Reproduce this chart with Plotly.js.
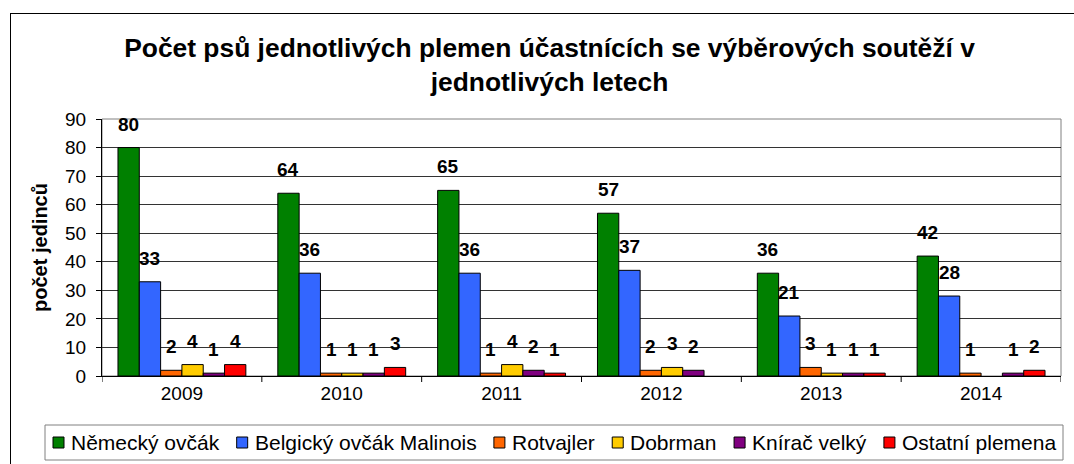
<!DOCTYPE html>
<html>
<head>
<meta charset="utf-8">
<script src="https://cdn.plot.ly/plotly-3.0.1.min.js"></script>
<style>
  html, body { margin: 0; padding: 0; background: #fff; overflow: hidden; }
  #wrap { position: relative; width: 1074px; height: 464px; }
  #chart { position: absolute; left: 0; top: 0; width: 1074px; height: 464px; }
  #frame { position: absolute; left: 10px; top: 13px; width: 1100px; height: 500px;
           border: 1px solid #000; pointer-events: none; box-sizing: border-box; }
</style>
</head>
<body>
<div id="wrap">
  <div id="chart"></div>
  <div id="frame"></div>
</div>
<script>
// ---- data ----
const years = ['2009', '2010', '2011', '2012', '2013', '2014'];
const nemeckyOvcak = [80, 64, 65, 57, 36, 42];
const belgickyMalinois = [33, 36, 36, 37, 21, 28];
const rotvajler = [2, 1, 1, 2, 3, 1];
const dobrman = [4, 1, 4, 3, 1, null];
const kniracVelky = [1, 1, 2, 2, 1, 1];
const ostatniPlemena = [4, 3, 1, null, 1, 2];
const seriesNames = ['Německý ovčák', 'Belgický ovčák Malinois', 'Rotvajler', 'Dobrman', 'Knírač velký', 'Ostatní plemena'];
const yTicks = [0, 10, 20, 30, 40, 50, 60, 70, 80, 90];

// ---- styling ----
const seriesValues = [nemeckyOvcak, belgickyMalinois, rotvajler, dobrman, kniracVelky, ostatniPlemena];
const colors = ['#008000', '#3366FF', '#FF6600', '#FFCC00', '#800080', '#FF0000'];
const FONT = 'Arial, "Liberation Sans", sans-serif';
const W = 1074, H = 464;
const margin = {l: 102, r: 13, t: 119, b: 88, pad: 0};
const bargap = 0.2;
const plotW = W - margin.l - margin.r;
const plotH = H - margin.t - margin.b;
const px2paperX = px => (px - margin.l) / plotW;
const px2paperY = py => (H - margin.b - py) / plotH;

const traces = seriesValues.map((vals, i) => ({
  type: 'bar',
  name: seriesNames[i],
  x: years,
  y: vals,
  marker: {color: colors[i], line: {color: '#000', width: 1}},
  hoverinfo: 'none',
  showlegend: false
}));

// data labels placed above each bar (category index + per-bar pixel offset)
const catW = plotW / years.length;
const barPx = catW * (1 - bargap) / seriesValues.length;
const annotations = [];
seriesValues.forEach((vals, i) => {
  vals.forEach((v, j) => {
    if (v === null) return;
    annotations.push({
      x: j, y: v, xref: 'x', yref: 'y',
      text: String(v), showarrow: false,
      xanchor: 'center', yanchor: 'bottom',
      xshift: (i - (seriesValues.length - 1) / 2) * barPx,
      yshift: 11,
      font: {family: FONT, size: 19, color: '#000', weight: 'bold'}
    });
  });
});

const shapes = [{
  type: 'rect', xref: 'paper', yref: 'paper', x0: 0, x1: 1, y0: 0, y1: 1,
  line: {color: '#808080', width: 1}, layer: 'below'
}];
// outside tick marks on category boundaries
for (let j = 0; j <= years.length; j++) {
  shapes.push({
    type: 'line', xref: 'x', yref: 'paper', ysizemode: 'pixel', yanchor: 0,
    x0: j - 0.5, x1: j - 0.5, y0: 0, y1: -6,
    line: {color: '#000', width: 1}
  });
}

// legend drawn as a boxed row: swatch + series name
const LEG_FONT = 21;
const legBox = {left: 45, right: 1063, top: 425, bottom: 460};
const swatch = 11, swGap = 6, pad = 8;
const ctx = document.createElement('canvas').getContext('2d');
ctx.font = LEG_FONT + 'px Arial, "Liberation Sans", sans-serif';
const textW = seriesNames.map(n => ctx.measureText(n).width);
const contentW = textW.reduce((a, b) => a + b, 0) + seriesNames.length * (swatch + swGap);
const itemGap = Math.max(6, (legBox.right - legBox.left - 2 * pad - contentW) / (seriesNames.length - 1));
shapes.push({
  type: 'rect', xref: 'paper', yref: 'paper',
  x0: px2paperX(legBox.left), x1: px2paperX(legBox.right),
  y0: px2paperY(legBox.bottom), y1: px2paperY(legBox.top),
  line: {color: '#808080', width: 1}, fillcolor: '#fff'
});
const legCy = (legBox.top + legBox.bottom) / 2;
let cx = legBox.left + pad;
seriesNames.forEach((name, i) => {
  shapes.push({
    type: 'rect', xref: 'paper', yref: 'paper',
    x0: px2paperX(cx), x1: px2paperX(cx + swatch),
    y0: px2paperY(legCy + swatch / 2), y1: px2paperY(legCy - swatch / 2),
    line: {color: '#000', width: 1}, fillcolor: colors[i]
  });
  annotations.push({
    xref: 'paper', yref: 'paper',
    x: px2paperX(cx + swatch + swGap), y: px2paperY(legCy),
    xanchor: 'left', yanchor: 'middle',
    text: name, showarrow: false, borderpad: 0,
    font: {family: FONT, size: LEG_FONT, color: '#000'}
  });
  cx += swatch + swGap + textW[i] + itemGap;
});

const layout = {
  width: W, height: H,
  margin: margin,
  paper_bgcolor: '#fff',
  plot_bgcolor: '#fff',
  barmode: 'group',
  bargap: bargap,
  bargroupgap: 0,
  showlegend: false,
  font: {family: FONT, color: '#000'},
  title: {
    text: '<b>Počet psů jednotlivých plemen účastnících se výběrových soutěží v<br>jednotlivých letech</b>',
    font: {family: FONT, size: 26.4, color: '#000'},
    x: 549.5 / W, xref: 'container', xanchor: 'center',
    y: 1 - 57 / H, yref: 'container', yanchor: 'top'
  },
  xaxis: {
    type: 'category',
    range: [-0.5, years.length - 0.5],
    autorange: false,
    showline: true, linecolor: '#000', linewidth: 1,
    ticks: '',
    showgrid: false, zeroline: false,
    tickfont: {family: FONT, size: 19, color: '#000'},
    fixedrange: true
  },
  yaxis: {
    range: [0, 90],
    autorange: false,
    tickvals: yTicks,
    showline: true, linecolor: '#000', linewidth: 1,
    ticks: 'outside', ticklen: 5, tickcolor: '#000',
    showgrid: true, gridcolor: '#333', gridwidth: 1,
    zeroline: false,
    ticklabelstandoff: 6,
    tickfont: {family: FONT, size: 19, color: '#000'},
    title: {text: '<b>počet jedinců</b>', font: {family: FONT, size: 20, color: '#000'}, standoff: 12},
    fixedrange: true
  },
  shapes: shapes,
  annotations: annotations
};

Plotly.newPlot('chart', traces, layout, {staticPlot: true, displayModeBar: false});
</script>
</body>
</html>
